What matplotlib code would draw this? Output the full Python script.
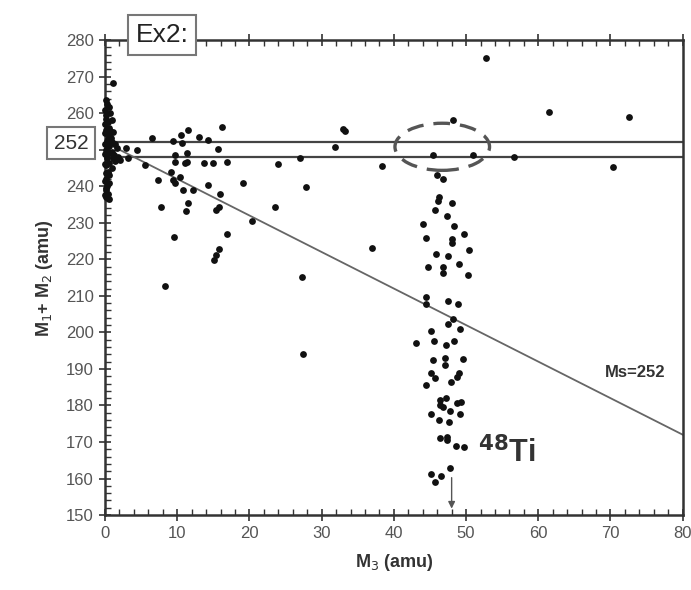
import matplotlib.pyplot as plt
from matplotlib.patches import Ellipse

plt.rcParams['font.family'] = ['Liberation Sans', 'DejaVu Sans']

# points close to M3 = 0 (the dense column on the axis)
zero_m3 = [1.1, 0.2, 0.5, 0.3, 0.7, 0.2, 0.9, 0.4, 0.6, 0.2, 1.15, 0.5, 0.8, 0.3,
           1.0, 1.4, 0.6, 1.6, 0.2, 0.9, 0.5, 1.3, 1.8, 0.3, 2.1, 1.15, 1.4, 0.6,
           0.2, 0.9, 0.4, 0.6, 0.2, 0.5, 0.3, 0.1, 0.4, 0.2, 0.5, 0.1, 0.7, 0.4,
           0.0, 0.0, 0.0, 0.0, 0.0, 0.0, 0.1, 0.0, 0.1, 0.0]
zero_sum = [268.3, 263.6, 261.7, 262.5, 260.0, 259.5, 258.0, 257.5, 256.0, 255.3,
            254.9, 254.0, 253.2, 252.5, 252.0, 251.7, 251.0, 250.4, 250.0, 249.5,
            249.0, 248.6, 248.0, 247.8, 247.2, 247.6, 247.0, 246.5, 245.8, 244.9,
            244.0, 243.0, 242.0, 241.0, 240.0, 239.0, 238.0, 237.0, 236.5, 258.5,
            255.0, 253.0, 261.0, 257.0, 254.5, 251.5, 248.8, 246.0, 243.5, 241.5,
            239.5, 237.5]

# scattered events between M3 = 2 and 40
mid_m3 = [2.9, 4.4, 3.2, 5.5, 6.5, 9.45, 10.5, 10.7, 11.5, 13.0, 14.3, 16.2, 15.7,
          9.7, 9.7, 11.3, 11.1, 11.4, 13.7, 14.9, 16.9, 24.0, 27.0, 9.1, 7.3, 9.45,
          9.7, 10.4, 10.8, 12.2, 14.3, 15.9, 19.1, 27.8, 7.8, 11.5, 11.2, 15.4, 15.8,
          23.5, 20.3, 16.9, 9.6, 15.8, 15.1, 15.4, 27.3, 8.3, 27.4, 37.0, 31.8, 33.0,
          33.3, 38.3]
mid_sum = [250.5, 249.9, 247.6, 245.8, 253.2, 252.4, 254.0, 251.9, 255.3, 253.6,
           252.7, 256.1, 250.2, 248.5, 246.7, 249.0, 246.3, 246.7, 246.5, 246.3,
           246.7, 246.0, 247.8, 244.0, 241.7, 241.7, 240.8, 242.6, 239.0, 239.1,
           240.3, 238.0, 241.0, 239.9, 234.2, 235.3, 233.2, 233.5, 234.2, 234.2,
           230.5, 226.8, 226.0, 222.7, 219.8, 221.2, 215.2, 212.7, 194.0, 223.0,
           250.8, 255.6, 255.0, 245.5]

# events around M3 = 48 (48Ti) and to the right
ti_m3 = [48.2, 45.4, 51.0, 52.8, 46.0, 46.8, 46.3, 46.1, 48.0, 45.7, 47.3, 44.1, 48.3,
         49.7, 44.4, 48.0, 48.0, 50.4, 45.8, 47.5, 49.0, 44.7, 46.8, 46.8, 50.2,
         44.4, 44.5, 47.5, 48.9, 48.2, 47.5, 49.1, 45.2, 43.0, 45.5, 47.2, 48.3,
         45.4, 47.1, 49.6, 47.1, 45.2, 45.7, 49.0, 48.8, 44.5, 47.9, 46.4, 46.4,
         47.2, 46.8, 48.8, 49.3, 47.8, 45.2, 49.1, 46.2, 47.7, 46.4, 47.4, 47.4,
         48.6, 49.7, 47.8, 45.1, 46.5, 45.7, 56.7, 61.5, 70.4, 72.5]
ti_sum = [258.1, 248.5, 248.5, 275.0, 243.0, 241.9, 237.1, 236.0, 235.5, 233.5, 231.9,
          229.6, 229.2, 226.9, 225.9, 225.7, 224.5, 222.5, 221.4, 221.0, 218.6,
          218.0, 218.0, 216.3, 215.7, 209.7, 207.9, 208.6, 207.9, 203.8, 202.3,
          200.9, 200.4, 197.0, 197.6, 196.5, 197.6, 192.4, 193.0, 192.8, 191.0,
          189.0, 187.4, 189.0, 187.7, 185.6, 186.3, 181.5, 180.1, 182.0, 179.6,
          180.7, 181.0, 178.6, 177.6, 177.6, 176.0, 175.4, 171.0, 171.4, 170.5,
          169.0, 168.7, 163.0, 161.2, 160.8, 159.0, 247.9, 260.4, 245.2, 259.0]

ms = 252
band = [248, 252]
yticks = [150, 160, 170, 180, 190, 200, 210, 220, 230, 240, 250, 260, 270, 280]
ylabels = ['150', '160', '170', '180', '190', '200', '210', '220', '230', '240',
           '', '260', '270', '280']
xticks = [0, 10, 20, 30, 40, 50, 60, 70, 80]

fig = plt.figure(figsize=(6.91, 5.9), dpi=100)
ax = fig.add_axes([0.152, 0.127, 0.836, 0.805])

for y in band:
    ax.axhline(y, color='#444', lw=1.6, zorder=2)
ax.plot([0, 80], [ms, ms - 80], color='#666', lw=1.3, zorder=2)

for xs, ys in [(zero_m3, zero_sum), (mid_m3, mid_sum), (ti_m3, ti_sum)]:
    ax.scatter(xs, ys, s=24, color='#111', zorder=3, clip_on=False, linewidths=0)

ax.add_patch(Ellipse((46.7, 250.8), 13.1, 12.9, fill=False, edgecolor='#555',
                     lw=2.4, ls=(0, (5, 3)), zorder=4))

ax.text(69.2, 188.9, 'Ms=252', fontsize=12, fontweight='bold', color='#333',
        va='center', ha='left')
ax.text(51.7, 167, r'$^{\mathbf{48}}$Ti', fontsize=22, fontweight='bold',
        color='#333', va='center', ha='left')
ax.annotate('', xy=(48, 151), xytext=(48, 161),
            arrowprops=dict(arrowstyle='-|>', color='#555', lw=1, mutation_scale=10))

ax.set_xlim(0, 80)
ax.set_ylim(150, 280)
ax.set_xticks(xticks)
ax.set_yticks(yticks)
ax.set_yticklabels(ylabels)
ax.set_xticks(range(0, 81, 2), minor=True)
ax.set_yticks(range(150, 281, 2), minor=True)
ax.tick_params(which='major', direction='inout', length=9, width=1.2, labelsize=12,
               labelcolor='#555', color='#333', top=True, right=False)
ax.tick_params(which='minor', direction='in', length=4, width=1, color='#333',
               top=True, right=False)
for s in ax.spines.values():
    s.set_linewidth(1.8)
    s.set_color('#333')

ax.set_xlabel('M$_3$ (amu)', fontsize=13, fontweight='bold', color='#333', labelpad=8)
ax.set_ylabel('M$_1$+ M$_2$ (amu)', fontsize=13, fontweight='bold', color='#333',
              labelpad=8)

fig.text(71 / 691, 1 - 143 / 590, '252', fontsize=15, color='#333', ha='center',
         va='center', bbox=dict(boxstyle='square,pad=0.3', fc='white', ec='#777', lw=1.5))
fig.text(162 / 691, 1 - 35 / 590, 'Ex2:', fontsize=19, color='#222', ha='center',
         va='center', bbox=dict(boxstyle='square,pad=0.3', fc='white', ec='#777', lw=1.5))

plt.savefig('out.png', dpi=100)
